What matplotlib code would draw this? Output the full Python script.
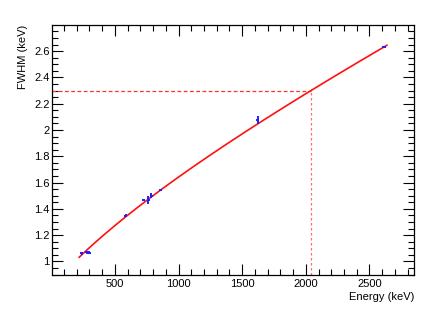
import numpy as np
import matplotlib.pyplot as plt
from matplotlib.ticker import MultipleLocator, FuncFormatter

# calibration peaks (keV) and measured FWHM (keV)
energy = [238.6, 277.4, 300.1, 583.2, 727.3, 763.1, 785.4, 860.6, 1620.7, 2614.5]
fwhm = [1.062, 1.070, 1.068, 1.348, 1.468, 1.468, 1.498, 1.544, 2.076, 2.631]
fwhm_err = [0.010, 0.012, 0.012, 0.010, 0.010, 0.028, 0.019, 0.008, 0.028, 0.008]
energy_err = [12, 12, 12, 12, 12, 12, 12, 12, 12, 12]

# fit FWHM = sqrt(a + b*E + c*E^2)
fit_a, fit_b, fit_c = 0.656, 0.001819, 2.212e-7
fit_range = (219, 2637)

# read-off point
e_mark, fwhm_mark = 2039, 2.30

plt.rcParams["font.family"] = ["Liberation Sans", "DejaVu Sans"]

fig = plt.figure(figsize=(4.36, 3.13), dpi=100)
ax = fig.add_axes([0.12, 0.1214, 0.8295, 0.7986])

xmin, xmax = 8, 2850
ymin, ymax = 0.897, 2.798

e_fit = np.linspace(fit_range[0], fit_range[1], 300)
ax.plot(e_fit, np.sqrt(fit_a + fit_b * e_fit + fit_c * e_fit ** 2),
        color="#ff1010", lw=1.2, zorder=3)

ax.errorbar(energy, fwhm, yerr=fwhm_err, xerr=energy_err, fmt="none",
            ecolor="#2020ff", elinewidth=1.4, capsize=0, zorder=4)

ax.plot([xmin, e_mark], [fwhm_mark, fwhm_mark], color="#ff3030", lw=0.9,
        ls=(0, (3, 2)), zorder=2)
ax.plot([e_mark, e_mark], [ymin, fwhm_mark], color="#ff6a6a", lw=0.9,
        ls=(0, (2, 2)), zorder=2)

ax.set_xlim(xmin, xmax)
ax.set_ylim(ymin, ymax)

ax.xaxis.set_major_locator(MultipleLocator(500))
ax.xaxis.set_minor_locator(MultipleLocator(100))
ax.yaxis.set_major_locator(MultipleLocator(0.2))
ax.yaxis.set_minor_locator(MultipleLocator(0.05))
ax.xaxis.set_major_formatter(FuncFormatter(lambda v, p: "" if v <= 0 else f"{v:g}"))
ax.yaxis.set_major_formatter(FuncFormatter(lambda v, p: f"{round(v, 2):g}"))

ax.tick_params(which="both", direction="in", top=True, right=True,
               labelsize=8, width=0.8, color="black")
ax.tick_params(which="major", length=8)
ax.tick_params(which="minor", length=4)
ax.tick_params(axis="y", pad=2)
ax.tick_params(axis="x", pad=3)
for s in ax.spines.values():
    s.set_linewidth(0.9)

ax.set_xlabel("Energy (keV)", fontsize=8, loc="right", labelpad=2)
ax.set_ylabel("FWHM (keV)", fontsize=8, loc="top", labelpad=4)

fig.savefig("out.png", dpi=100)
